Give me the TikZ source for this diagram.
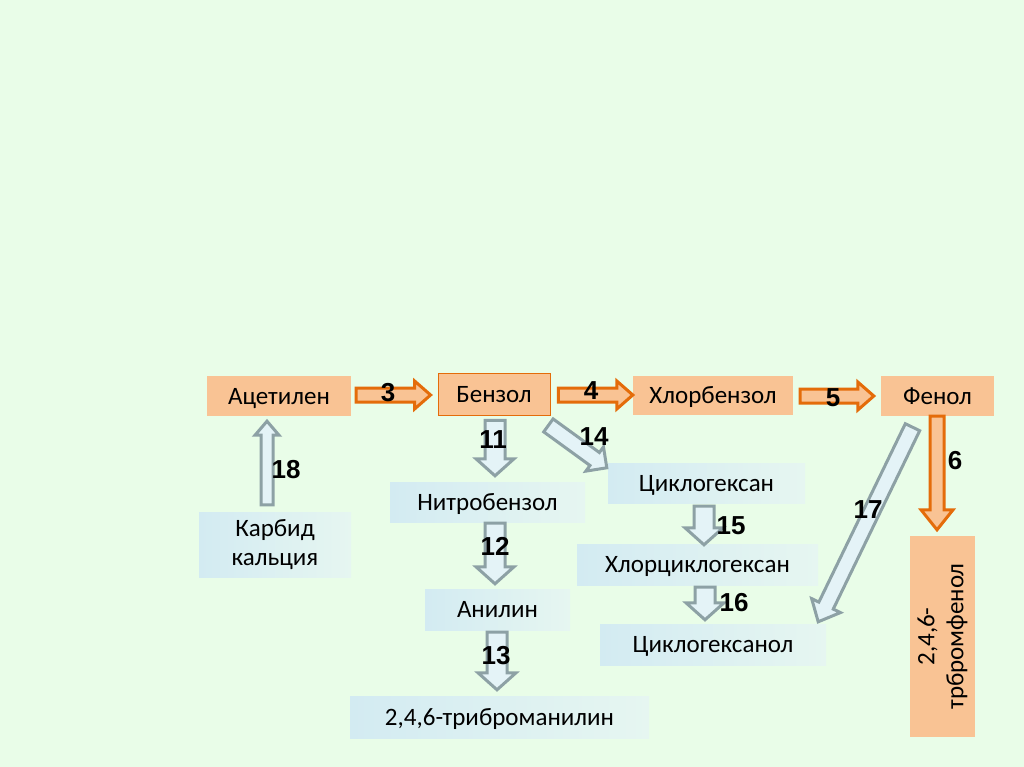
\documentclass[tikz,border=0pt]{standalone}
\usepackage{fontspec}
\setmainfont{Carlito}
\newfontfamily\numfont{Liberation Sans}
\usetikzlibrary{calc}
\definecolor{bgG}{HTML}{E9FDE8}
\definecolor{orF}{HTML}{F9C394}
\definecolor{orD}{HTML}{E46C0A}
\definecolor{blL}{HTML}{D3EBF2}
\definecolor{blR}{HTML}{E6F6F1}
\definecolor{grA}{HTML}{8DA1A5}
\definecolor{grF}{HTML}{E4F3F7}
\tikzset{
  boxfont/.style={font=\fontsize{25}{29}\selectfont},
  oneline/.style={text height=18pt, text depth=2pt},
  obox/.style={rectangle, fill=orF, inner sep=0pt, boxfont},
  bbox/.style={rectangle, left color=blL, right color=blR, inner sep=0pt, boxfont},
  oarr/.style={draw=orD, fill=orF, line width=3pt, line join=miter},
  garr/.style={draw=grA, fill=grF, line width=3pt, line join=miter},
  num/.style={font=\numfont\bfseries\fontsize{26}{28}\selectfont, inner sep=0pt}
}
% #1 style, #2 from, #3 to, #4 shaft half width, #5 head half width, #6 head length
\newcommand\blockarr[6]{%
  \coordinate (hbase) at ($(#3)!#6!(#2)$);
  \draw[#1] ($(#2)!#4!90:(#3)$) -- ($(hbase)!#4!-90:(#2)$) -- ($(hbase)!#5!-90:(#2)$)
    -- (#3) -- ($(hbase)!#5!90:(#2)$) -- ($(hbase)!#4!90:(#2)$) -- ($(#2)!#4!-90:(#3)$) -- cycle;}
\begin{document}
\begin{tikzpicture}[x=1pt,y=-1pt]
\useasboundingbox (0,0) rectangle (1024,767);
\fill[bgG] (0,0) rectangle (1024,767);
% boxes
\node[obox, oneline, minimum width=144pt, minimum height=40pt] (ac) at (279,396) {Ацетилен};
\node[obox, oneline, draw=orD, line width=0.8pt, minimum width=112pt, minimum height=42pt] (bz) at (494,394) {Бензол};
\node[obox, oneline, minimum width=160pt, minimum height=39pt] (hb) at (713,395.5) {Хлорбензол};
\node[obox, oneline, minimum width=113pt, minimum height=40pt] (fn) at (937.5,396) {Фенол};
\node[bbox, minimum width=152pt, minimum height=65pt, align=center] (kc) at (275,544.5) {Карбид\\кальция};
\node[bbox, oneline, minimum width=195pt, minimum height=40pt] (nb) at (487.5,502) {Нитробензол};
\node[bbox, oneline, minimum width=197pt, minimum height=40pt] (cg) at (706.5,483) {Циклогексан};
\node[bbox, oneline, minimum width=241pt, minimum height=41pt] (hcg) at (697.5,564.5) {Хлорциклогексан};
\node[bbox, oneline, minimum width=145pt, minimum height=41pt] (an) at (497.5,609.5) {Анилин};
\node[bbox, oneline, minimum width=226pt, minimum height=41pt] (cgl) at (713,644.5) {Циклогексанол};
\node[bbox, oneline, minimum width=299pt, minimum height=42pt] (tba) at (499.5,717) {2,4,6-триброманилин};
\node[obox, minimum width=65pt, minimum height=201pt] (tbf) at (942.5,636.5) {};
\node[rotate=90, align=center, boxfont, inner sep=0pt] (tbft) at (tbf.center) {2,4,6-\\трбромфенол};
% arrow end points
\coordinate (s3) at ($(ac.east)+(5,-1)$);  \coordinate (e3) at ($(bz.west)+(-7,1)$);
\coordinate (s4) at ($(bz.east)+(8,1)$);   \coordinate (e4) at ($(hb.west)+(0,-0.5)$);
\coordinate (s5) at ($(hb.east)+(7,0.5)$); \coordinate (e5) at ($(fn.west)+(-7,0)$);
\coordinate (s6) at ($(fn.south)+(-0.5,0)$); \coordinate (e6) at ($(tbf.north)+(-5.5,-6)$);
\coordinate (s11) at ($(bz.south)+(1,5)$); \coordinate (e11) at ($(nb.north)+(7.5,-6)$);
\coordinate (s12) at ($(nb.south)+(7.5,1)$); \coordinate (e12) at ($(an.north)+(-2.5,-5)$);
\coordinate (s13) at ($(an.south)+(-0.5,2)$); \coordinate (e13) at ($(tba.north)+(-2.5,-6)$);
\coordinate (s14) at ($(bz.south east)+(-2,10)$); \coordinate (e14) at ($(cg.north west)+(-1,5)$);
\coordinate (s15) at ($(cg.south)+(-2.5,3)$); \coordinate (e15) at ($(hcg.north)+(6.5,1)$);
\coordinate (s16) at ($(hcg.south)+(7.5,2)$); \coordinate (e16) at ($(cgl.north)+(-8,-4)$);
\coordinate (s17) at ($(fn.south)+(-25,11)$); \coordinate (e17) at ($(cgl.north east)+(-8,-2)$);
\coordinate (s18) at ($(kc.north)+(-8,-7)$); \coordinate (e18) at ($(ac.south)+(-12,5)$);
% arrows
\blockarr{oarr}{s3}{e3}{7pt}{14pt}{16pt}
\blockarr{oarr}{s4}{e4}{7pt}{14pt}{16pt}
\blockarr{oarr}{s5}{e5}{7pt}{14pt}{16pt}
\blockarr{oarr}{s6}{e6}{7pt}{16pt}{20pt}
\blockarr{garr}{s11}{e11}{10pt}{19pt}{17pt}
\blockarr{garr}{s12}{e12}{10pt}{19pt}{17pt}
\blockarr{garr}{s13}{e13}{10pt}{19pt}{17pt}
\blockarr{garr}{s14}{e14}{8pt}{15pt}{15pt}
\blockarr{garr}{s15}{e15}{10pt}{19pt}{17pt}
\blockarr{garr}{s16}{e16}{10pt}{19pt}{17pt}
\blockarr{garr}{s17}{e17}{8pt}{16pt}{18pt}
\blockarr{garr}{s18}{e18}{6pt}{12pt}{14pt}
% labels
\node[num] (n3) at (388,393) {3};
\node[num] (n4) at (591,391) {4};
\node[num] (n5) at (833,398) {5};
\node[num] (n6) at (955,461) {6};
\node[num] (n11) at (493,440) {11};
\node[num] (n12) at (495,546) {12};
\node[num] (n13) at (496,656) {13};
\node[num] (n14) at (594,437) {14};
\node[num] (n15) at (731,526) {15};
\node[num] (n16) at (734,603) {16};
\node[num] (n17) at (868,510) {17};
\node[num] (n18) at (286,470) {18};
\end{tikzpicture}
\end{document}
